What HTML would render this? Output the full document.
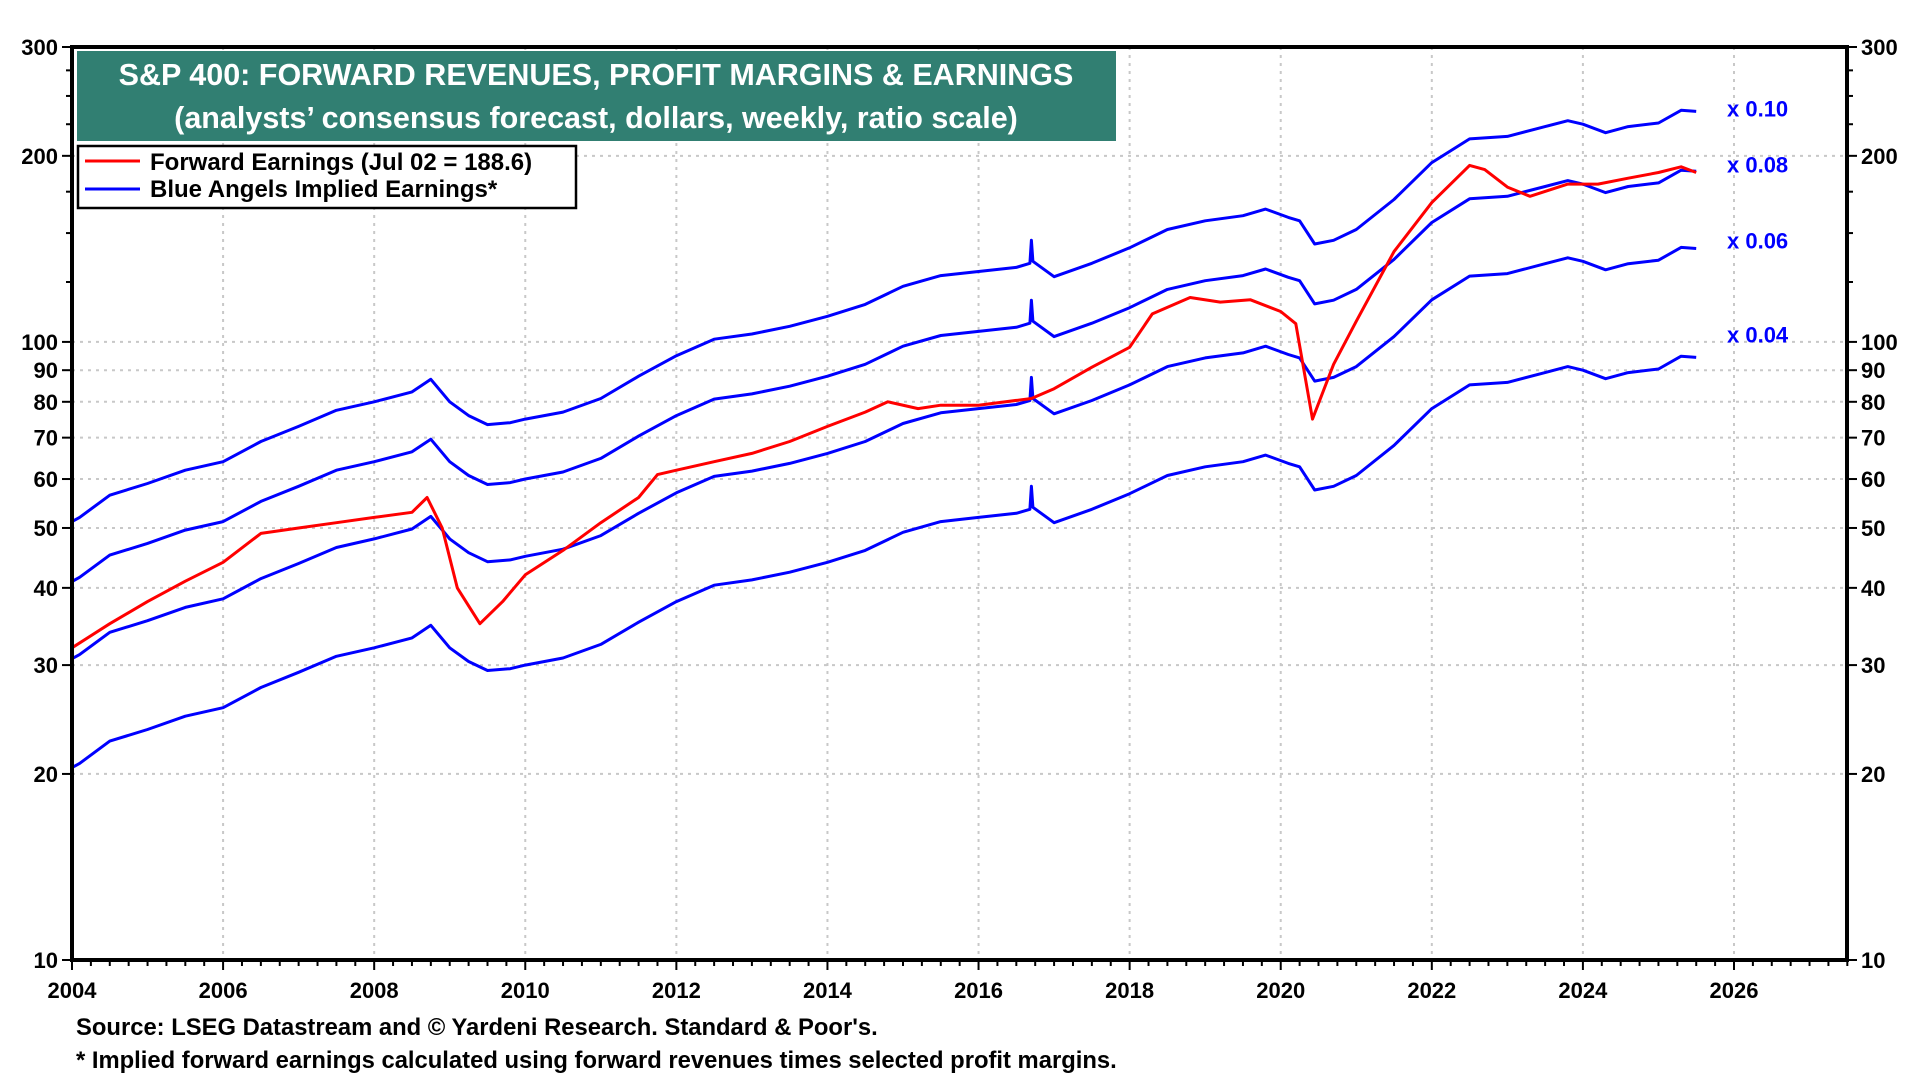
<!DOCTYPE html>
<html><head><meta charset="utf-8">
<style>
html,body{margin:0;padding:0;background:#fff;}
body{width:1920px;height:1080px;overflow:hidden;font-family:"Liberation Sans",Arial,sans-serif;}
text{font-family:"Liberation Sans",Arial,sans-serif;font-weight:bold;}
</style></head>
<body>
<svg id="chart" width="1920" height="1080" xmlns="http://www.w3.org/2000/svg">
<g id="grid"></g>
<g id="series"></g>
<rect x="72" y="47" width="1775" height="913" fill="none" stroke="#000" stroke-width="4"/>
<g id="axes"></g>
<rect x="77" y="51" width="1039" height="90" fill="#317f72"/>
<text x="596" y="85" text-anchor="middle" fill="#fff" font-size="30.5">S&amp;P 400: FORWARD REVENUES, PROFIT MARGINS &amp; EARNINGS</text>
<text x="596" y="128" text-anchor="middle" fill="#fff" font-size="30.5">(analysts’ consensus forecast, dollars, weekly, ratio scale)</text>
<g>
<rect x="78" y="146" width="498" height="62" fill="#fff" stroke="#000" stroke-width="2.5"/>
<line x1="85" y1="161" x2="140" y2="161" stroke="#ff0000" stroke-width="3"/>
<text x="150" y="170" font-size="24">Forward Earnings (Jul 02 = 188.6)</text>
<line x1="85" y1="189" x2="140" y2="189" stroke="#0000ff" stroke-width="3"/>
<text x="150" y="197" font-size="24">Blue Angels Implied Earnings*</text>
</g>
<g id="mlabels"></g>
<text x="76" y="1035" font-size="23.8">Source: LSEG Datastream and © Yardeni Research. Standard &amp; Poor's.</text>
<text x="76" y="1068" font-size="23.8">* Implied forward earnings calculated using forward revenues times selected profit margins.</text>
</svg>
<script>
const revDates=[2004,2004.1,2004.5,2005,2005.5,2006,2006.5,2007,2007.5,2008,2008.5,2008.75,2009,2009.25,2009.5,2009.8,2010,2010.5,2011,2011.5,2012,2012.5,2013,2013.5,2014,2014.5,2015,2015.5,2016,2016.5,2016.68,2016.7,2016.72,2017,2017.5,2018,2018.5,2019,2019.5,2019.8,2020.1,2020.25,2020.45,2020.7,2021,2021.5,2022,2022.5,2023,2023.5,2023.8,2024,2024.3,2024.6,2025,2025.3,2025.5];
const revenue=[512,520,565,590,620,640,690,730,775,800,830,870,800,760,735,740,750,770,810,880,950,1010,1030,1060,1100,1150,1230,1280,1300,1320,1340,1460,1350,1275,1340,1420,1520,1570,1600,1640,1590,1570,1440,1460,1520,1700,1950,2130,2150,2230,2280,2250,2180,2230,2260,2370,2360];
const earnDates=[2004,2004.5,2005,2005.5,2006,2006.5,2007,2007.5,2008,2008.5,2008.7,2008.9,2009.1,2009.4,2009.7,2010,2010.5,2011,2011.5,2011.75,2012,2012.5,2013,2013.5,2014,2014.5,2014.8,2015.2,2015.5,2016,2016.7,2017,2017.5,2018,2018.3,2018.8,2019.2,2019.6,2020,2020.2,2020.42,2020.7,2021,2021.5,2022,2022.5,2022.7,2023,2023.3,2023.8,2024.2,2024.6,2025,2025.3,2025.5];
const earnings=[32,35,38,41,44,49,50,51,52,53,56,50,40,35,38,42,46,51,56,61,62,64,66,69,73,77,80,78,79,79,81,84,91,98,111,118,116,117,112,107,75,92,108,140,168,193,190,178,172,180,180,184,188,192,188];
const margins=[0.10,0.08,0.06,0.04];
const marginLabels=["x 0.10","x 0.08","x 0.06","x 0.04"];
const yTicks=[10,20,30,40,50,60,70,80,90,100,200,300];
const xTicks=[2004,2006,2008,2010,2012,2014,2016,2018,2020,2022,2024,2026];
const X0=72,X1=1847,Y0=47,Y1=960;
const labelOffsets=[5,1,0,-15];
const xs=y=>X0+(y-2004)*(1734-72)/22;
const ys=v=>Y1-(Math.log10(v)-1)/(Math.log10(300)-1)*(Y1-Y0);
const NS="http://www.w3.org/2000/svg";
function mk(t,p,parent){const e=document.createElementNS(NS,t);for(const k in p)e.setAttribute(k,p[k]);parent.appendChild(e);return e;}
const grid=document.getElementById('grid'),axes=document.getElementById('axes'),ser=document.getElementById('series'),ml=document.getElementById('mlabels');
yTicks.forEach(v=>{const y=ys(v);
 if(v!==10&&v!==300){const g=mk('line',{x1:X0,x2:X1,y1:y,y2:y,stroke:'#c8c8c8','stroke-width':2,'stroke-dasharray':'3,5'},grid);
 }
 mk('line',{x1:X0-10,x2:X0,y1:y,y2:y,stroke:'#000','stroke-width':2},axes);
 mk('line',{x1:X1,x2:X1+10,y1:y,y2:y,stroke:'#000','stroke-width':2},axes);
 const l=mk('text',{x:X0-14,y:y+8,'text-anchor':'end','font-size':22},axes);l.textContent=v;
 
 const r=mk('text',{x:X1+14,y:y+8,'font-size':22},axes);r.textContent=v;
 
});
[225,250,275,125,150,175].forEach(v=>{const y=ys(v);mk('line',{x1:X0-6,x2:X0,y1:y,y2:y,stroke:'#000','stroke-width':2},axes);mk('line',{x1:X1,x2:X1+6,y1:y,y2:y,stroke:'#000','stroke-width':2},axes);});
for(let q=2004;q<=2027.5;q+=0.25){const x=xs(q);const major=Math.abs(q-Math.round(q))<1e-6&&Math.round(q)%2===0;
 mk('line',{x1:x,x2:x,y1:Y1,y2:Y1+(major?10:6),stroke:'#000','stroke-width':2},axes);}
xTicks.forEach(t=>{const x=xs(t);
 if(t!==2004){const g=mk('line',{x1:x,x2:x,y1:Y0,y2:Y1,stroke:'#c8c8c8','stroke-width':2,'stroke-dasharray':'3,5'},grid);
 }
 const l=mk('text',{x:x,y:Y1+38,'text-anchor':'middle','font-size':22},axes);l.textContent=t;
 
});
margins.forEach((m,i)=>{const pts=revDates.map((d,j)=>xs(d).toFixed(1)+','+ys(revenue[j]*m).toFixed(1)).join(' ');
 const p=mk('polyline',{points:pts,fill:'none',stroke:'#0000ff','stroke-width':3,'stroke-linejoin':'round'},ser);
 
 const last=revenue[revenue.length-1]*m;
 const t=mk('text',{x:1727,y:ys(last)+labelOffsets[i],fill:'#0000ff','font-size':22},ml);t.textContent=marginLabels[i];
 
});
const ep=earnDates.map((d,j)=>xs(d).toFixed(1)+','+ys(earnings[j]).toFixed(1)).join(' ');
const e=mk('polyline',{points:ep,fill:'none',stroke:'#ff0000','stroke-width':3,'stroke-linejoin':'round'},ser);

</script>
</body></html>
